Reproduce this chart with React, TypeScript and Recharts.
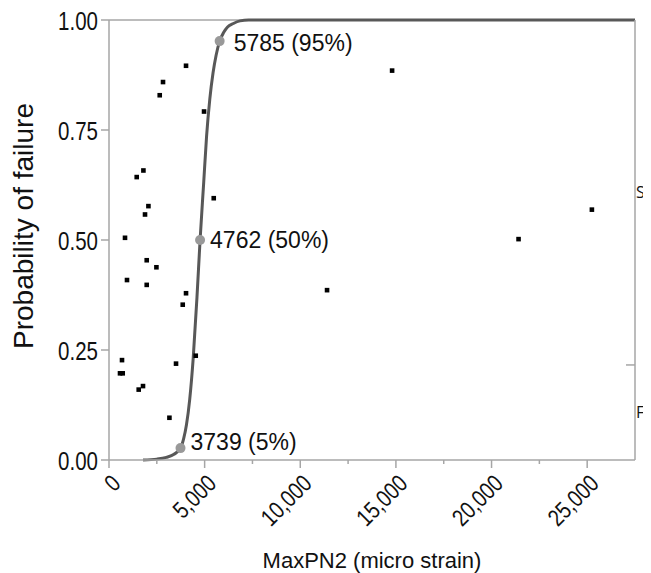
import React, { useLayoutEffect } from "react";
import {
  ComposedChart,
  XAxis,
  YAxis,
  Line,
  Scatter,
  ReferenceLine,
  Label,
} from "recharts";

// Observed data points (MaxPN2, probability)
const obsX = [
  4027, 2824, 2652, 4969, 1799, 1449, 5476, 2061, 1883, 837, 1972, 2479, 941,
  1972, 4027, 3855, 680, 575, 717, 1778, 1553, 3504, 4535, 3159, 14801, 25246,
  21412, 11400,
];
const obsP = [
  0.896, 0.859, 0.829, 0.792, 0.658, 0.643, 0.595, 0.577, 0.558, 0.505, 0.454,
  0.438, 0.409, 0.398, 0.379, 0.353, 0.227, 0.197, 0.197, 0.168, 0.16, 0.219,
  0.237, 0.096, 0.885, 0.569, 0.502, 0.386,
];

// Fitted curve
const curveX = [
  1780, 2500, 3000, 3400, 3739, 3900, 4050, 4220, 4400, 4600, 4762, 4950, 5100,
  5270, 5440, 5600, 5785, 6000, 6200, 6500, 6850, 7300, 27500,
];
const curveP = [
  0.0, 0.002, 0.006, 0.013, 0.027, 0.048, 0.08, 0.138, 0.23, 0.37, 0.5, 0.63,
  0.735, 0.82, 0.88, 0.92, 0.952, 0.972, 0.984, 0.992, 0.998, 1.0, 1.0,
];

// Highlighted quantiles
const markX = [3739, 4762, 5785];
const markP = [0.027, 0.5, 0.952];
const markLabels = ["3739 (5%)", "4762 (50%)", "5785 (95%)"];

// Axis ticks
const xTicks = [0, 2500, 5000, 7500, 10000, 12500, 15000, 17500, 20000, 22500, 25000];
const yTicks = [0, 0.25, 0.5, 0.75, 1];
// Right-side categorical axis: outcome bands (F below boundary, S above)
const rightTicks = [0.108, 0.216, 0.608];
const rightLabels = ["F", "", "S"];

const obsData = obsX.map((x, i) => ({ x, p: obsP[i] }));
const curveData = curveX.map((x, i) => ({ x, p: curveP[i] }));
const markData = markX.map((x, i) => ({ x, p: markP[i], label: markLabels[i], idx: i }));

const AXIS = "#a6a6a6";
const ARIAL = "'Liberation Sans', Arial, sans-serif";
const NARROW_SCALE = 0.82;

const labelOffsets = [
  { dx: 10, dy: -6 },
  { dx: 10, dy: 0 },
  { dx: 14, dy: 2 },
];

const XTick = (props: any) => {
  const { x, y, payload } = props;
  const major = payload.value % 5000 === 0;
  const ax = x + 13;
  const ay = y + 17;
  return (
    <g>
      <line x1={x} x2={x} y1={y - 8} y2={major ? y : y - 4} stroke={AXIS} strokeWidth={1.5} />
      {major && (
        <text
          x={0}
          y={0}
          textAnchor="end"
          transform={`translate(${ax},${ay}) rotate(-45) scale(${NARROW_SCALE},1)`}
          fontFamily={ARIAL}
          fontSize={24}
          fill="#111"
        >
          {payload.value.toLocaleString("en-US")}
        </text>
      )}
    </g>
  );
};

const YTick = (props: any) => {
  const { x, y, payload } = props;
  return (
    <text
      x={0}
      y={0}
      textAnchor="end"
      dominantBaseline="central"
      transform={`translate(${x},${y + 1.5}) scale(${NARROW_SCALE},1)`}
      fontFamily={ARIAL}
      fontSize={25}
      fill="#111"
    >
      {payload.value.toFixed(2)}
    </text>
  );
};

const RightTick = (props: any) => {
  const { x, y, payload } = props;
  const i = rightTicks.indexOf(payload.value);
  const lab = rightLabels[i];
  if (!lab) {
    return <line x1={x - 9} x2={x} y1={y} y2={y} stroke={AXIS} strokeWidth={1.5} />;
  }
  return (
    <text
      x={x + 1}
      y={y}
      dominantBaseline="central"
      fontFamily="'Open Sans', sans-serif"
      fontSize={16}
      fill="#111"
    >
      {lab}
    </text>
  );
};

const Square = (props: any) => {
  const { cx, cy } = props;
  return <rect x={cx - 2.3} y={cy - 2.3} width={4.6} height={4.6} fill="#000" />;
};

const MarkDot = (props: any) => {
  const { cx, cy, payload } = props;
  const o = labelOffsets[payload.idx];
  return (
    <g>
      <circle cx={cx} cy={cy} r={5} fill="#999" />
      <text
        x={cx + o.dx}
        y={cy + o.dy}
        dominantBaseline="central"
        fontFamily={ARIAL}
        fontSize={23}
        fill="#111"
      >
        {payload.label}
      </text>
    </g>
  );
};

const YLabel = () => (
  <text
    x={25}
    y={218}
    transform="rotate(-90 25 218)"
    textAnchor="middle"
    fontFamily={ARIAL}
    fontSize={28}
    fill="#111"
  >
    Probability of failure
  </text>
);

export default function App() {
  useLayoutEffect(() => {
    document.documentElement.style.overflow = "hidden";
    document.body.style.overflow = "hidden";
  }, []);
  return (
    <div style={{ width: 643, height: 565 }}>
      <ComposedChart
        width={643}
        height={565}
        margin={{ top: 12, right: 0, bottom: 0, left: 0 }}
        style={{ background: "#fff" }}
      >
        <XAxis
          type="number"
          dataKey="x"
          domain={[0, 27500]}
          ticks={xTicks}
          interval={0}
          height={113}
          allowDataOverflow
          tickLine={false}
          tickSize={8}
          tickMargin={0}
          tick={<XTick />}
          axisLine={{ stroke: AXIS, strokeWidth: 1.5 }}
        >
          <Label
            value="MaxPN2 (micro strain)"
            position="insideBottom"
            offset={5}
            fontFamily={ARIAL}
            fontSize={22}
            fill="#111"
          />
        </XAxis>
        <YAxis
          yAxisId="left"
          type="number"
          domain={[0, 1]}
          ticks={yTicks}
          interval={0}
          width={101}
          tickSize={8}
          tickMargin={3}
          tick={<YTick />}
          tickLine={{ stroke: AXIS, strokeWidth: 1.5 }}
          axisLine={{ stroke: AXIS, strokeWidth: 1.5 }}
          label={<YLabel />}
        />
        <YAxis
          yAxisId="right"
          orientation="right"
          type="number"
          domain={[0, 1]}
          allowDataOverflow
          ticks={rightTicks}
          interval={0}
          width={16}
          tickSize={0}
          tickMargin={0}
          tickLine={false}
          tick={<RightTick />}
          axisLine={{ stroke: AXIS, strokeWidth: 1.5 }}
        />
        <ReferenceLine yAxisId="left" y={1} stroke={AXIS} strokeWidth={1.5} />
        <Line
          yAxisId="left"
          data={curveData}
          dataKey="p"
          type="monotone"
          stroke="#585858"
          strokeWidth={3}
          dot={false}
          activeDot={false}
          isAnimationActive={false}
        />
        <Scatter
          yAxisId="left"
          data={obsData}
          dataKey="p"
          shape={<Square />}
          isAnimationActive={false}
        />
        <Scatter
          yAxisId="right"
          data={markData}
          dataKey="p"
          shape={<MarkDot />}
          isAnimationActive={false}
        />
      </ComposedChart>
    </div>
  );
}
